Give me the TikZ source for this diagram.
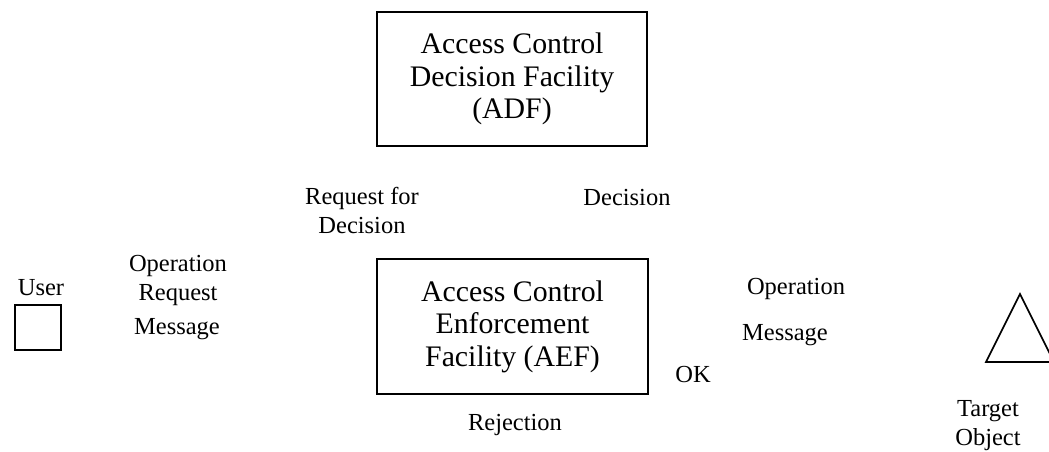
\documentclass[tikz,border=0pt]{standalone}
\usepackage{fontspec}
\setmainfont{Liberation Serif}
\begin{document}
\begin{tikzpicture}[x=1pt,y=-1pt,
  facility/.style={draw,line width=1.6pt,rectangle,align=center,inner sep=0pt,
    font=\fontsize{29.8}{32.5}\selectfont},
  lbl/.style={anchor=base,align=center,inner sep=0pt,
    font=\fontsize{24.5}{28.5}\selectfont}]
\useasboundingbox (0,0) rectangle (1049,451);

% the two facilities
\node[facility,minimum width=270pt,minimum height=134pt] (adf) at (512,79)
  {Access Control\\Decision Facility\\(ADF)};
\node[facility,minimum width=271pt,minimum height=135pt] (aef) at (512.5,326.5)
  {Access Control\\Enforcement\\Facility (AEF)};

% user and target object
\node[draw,line width=1.6pt,rectangle,minimum width=46pt,minimum height=45pt,inner sep=0pt] (user) at (38,327.5) {};
\node[lbl] (userlbl) at (41,295) {User};
\draw[line width=1.6pt,line join=miter] (1020,294) coordinate (tgtop) -- (986,362) -- (1054,362) -- cycle;
\node[lbl] (tgtlbl) at (988,445) {Target\\Object};

% message labels (multi-line labels sit on their last line)
\node[lbl] (opreq) at (178,300) {Operation\\Request};
\node[lbl] (opreqmsg) at (177,334) {Message};
\node[lbl] (reqdec) at (362,233) {Request for\\Decision};
\node[lbl] (dec) at (627,205) {Decision};
\node[lbl] (op) at (796,294) {Operation};
\node[lbl] (opmsg) at (785,340) {Message};
\node[lbl] (ok) at (693,382) {OK};
\node[lbl] (rej) at (515,430) {Rejection};
\end{tikzpicture}
\end{document}
